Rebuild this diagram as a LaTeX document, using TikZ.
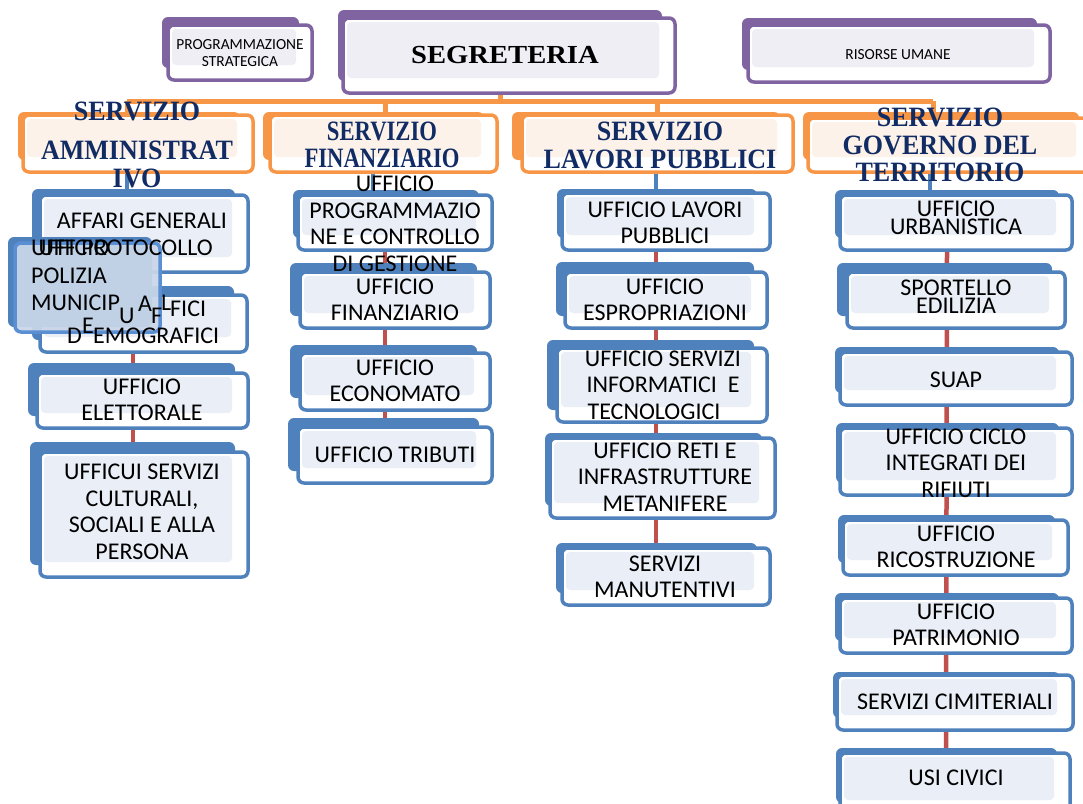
\documentclass[tikz,border=0pt]{standalone}
\usepackage{fontspec}
\setmainfont{Carlito}
\newfontfamily\headfont[FakeStretch=0.93]{Liberation Serif}
\newfontfamily\headfontc[FakeStretch=0.81]{Liberation Serif}
\newfontfamily\segfont[FakeStretch=1.1]{Liberation Serif}
\usetikzlibrary{calc,fit}
\pgfdeclarelayer{bg}
\pgfsetlayers{bg,main}
\definecolor{bback}{HTML}{4F81BD}
\definecolor{blight}{HTML}{EAEFF7}
\definecolor{oback}{HTML}{F79646}
\definecolor{olight}{HTML}{FDF2E9}
\definecolor{pback}{HTML}{8064A2}
\definecolor{plight}{HTML}{F0EEF5}
\definecolor{navy}{HTML}{112B64}
\definecolor{redl}{HTML}{C0504D}
\definecolor{polb}{HTML}{5B8FD3}
\definecolor{polfill}{HTML}{C9D6E9}
% name, scheme, back top-left, front top-left, front bottom-right
\newcommand\obox[5]{%
  \fill[#2back, rounded corners=6pt] #3 rectangle ($#5+(-13,-12)$);
  \draw[#2back, fill=white, line width=3.5pt, rounded corners=6pt] #4 rectangle #5;
  \fill[#2light, rounded corners=4pt] ($#4+(4,4)$) rectangle ($#5+(-16,-15)$);
  \node[fit={#4 #5}, inner sep=0pt] (#1) {};
}
\begin{document}
\begin{tikzpicture}[x=1pt,y=-1pt,
  otxt/.style={font=\fontsize{24}{26.5}\selectfont, align=center, inner sep=0pt, text=black},
  tight/.style={font=\fontsize{24}{18}\selectfont},
  stxt/.style={font=\fontsize{15.4}{17}\selectfont, align=center, inner sep=0pt, text=black},
  htxt/.style={font=\headfont\bfseries\fontsize{28}{28}\selectfont, align=center, inner sep=0pt, text=navy},
  redln/.style={draw=redl, line width=4.5pt},
  bluln/.style={draw=bback, line width=4pt},
  orln/.style={draw=oback, line width=5pt}]
\useasboundingbox (0,0) rectangle (1083,803);

% ---- purple boxes
\obox{prog}{p}{(162,17)}{(168,25)}{(312,80)}
\obox{seg}{p}{(338,10)}{(343,18)}{(675,93)}
\obox{ris}{p}{(742,18)}{(748,25)}{(1050,82)}

% ---- orange boxes
\obox{adm}{o}{(18,112)}{(23,115)}{(253,172)}
\obox{fin}{o}{(263,112)}{(270,115)}{(497,172)}
\obox{lav}{o}{(512,112)}{(522,115)}{(793,172)}
\obox{gov}{o}{(803,112)}{(808,118)}{(1092,172)}

% ---- blue boxes: amministrativo
\obox{aff}{b}{(32,189)}{(40,195)}{(248,272)}
\obox{dem}{b}{(32,286)}{(40,295)}{(247,352)}
\obox{ele}{b}{(28,363)}{(37,373)}{(248,428)}
\obox{cul}{b}{(30,442)}{(40,452)}{(248,577)}
% finanziario
\obox{pcg}{b}{(293,190)}{(298,195)}{(492,250)}
\obox{ufin}{b}{(290,263)}{(300,272)}{(490,328)}
\obox{econ}{b}{(290,345)}{(300,353)}{(490,410)}
\obox{trib}{b}{(288,418)}{(298,427)}{(492,483)}
% lavori pubblici
\obox{ulav}{b}{(557,189)}{(562,193)}{(770,250)}
\obox{espr}{b}{(556,262)}{(565,272)}{(767,328)}
\obox{info}{b}{(547,340)}{(557,348)}{(767,422)}
\obox{reti}{b}{(545,433)}{(550,438)}{(775,518)}
\obox{manu}{b}{(556,543)}{(562,548)}{(770,605)}
% governo del territorio
\obox{urb}{b}{(835,190)}{(840,195)}{(1072,250)}
\obox{spor}{b}{(837,263)}{(847,272)}{(1065,328)}
\obox{suap}{b}{(835,347)}{(840,352)}{(1072,405)}
\obox{cicl}{b}{(836,423)}{(840,428)}{(1072,495)}
\obox{rico}{b}{(838,515)}{(843,520)}{(1068,575)}
\obox{patr}{b}{(835,593)}{(840,598)}{(1072,653)}
\obox{cimi}{b}{(833,672)}{(837,675)}{(1073,730)}
\obox{usi}{b}{(836,748)}{(840,753)}{(1070,815)}

% ---- polizia municipale (overlapping box)
\fill[bback, rounded corners=6pt] (8,237) rectangle (152,327);
\draw[polb, fill=polfill, fill opacity=0.93, line width=3.5pt, rounded corners=6pt] (15,243) rectangle (160,332);
\node[fit={(15,243) (160,332)}, inner sep=0pt] (pol) {};

% ---- connectors (behind)
\begin{pgfonlayer}{bg}
\coordinate (hl) at (127,101);
\coordinate (hr) at (933,101);
\coordinate (fx) at (385,101);
\coordinate (lx) at (657,101);
\draw[orln] ($(seg.south)+(-9,0)$) |- (hl);
\draw[orln] (hl) -- (hr);
\draw[orln] (hl) -- (adm.north -| hl);
\draw[orln] (fx) -- (fin.north -| fx);
\draw[orln] (lx) -- (lav.north -| lx);
\draw[orln] (hr) -- (gov.north -| hr);
\draw[bluln] ($(adm.south)+(-11,0)$) -- ($(aff.north)+(-17,0)$);
\draw[bluln] ($(fin.south)+(-10.5,0)$) -- ($(pcg.north)+(-22,0)$);
\draw[bluln] ($(lav.south)+(-1.5,0)$) -- ($(ulav.north)+(-10,0)$);
\draw[bluln] ($(gov.south)+(-20,0)$) -- ($(urb.north)+(-26,0)$);
\draw[redln] ($(aff.south)+(-11,0)$) -- ($(cul.north)+(-11,0)$);
\draw[redln] ($(pcg.south)+(-10,0)$) -- ($(trib.north)+(-10,0)$);
\draw[redln] ($(ulav.south)+(-10,0)$) -- ($(manu.north)+(-10,0)$);
\draw[redln] ($(urb.south)+(-9,0)$) -- ($(usi.north)+(-9,0)$);
\end{pgfonlayer}

% ---- texts
\node[stxt] (prog-t) at (240,53.5) {PROGRAMMAZIONE\\STRATEGICA};
\node[inner sep=0pt, font=\segfont\bfseries\fontsize{26}{28}\selectfont] (seg-t) at (505,55) {SEGRETERIA};
\node[stxt] (ris-t) at (898,55) {RISORSE UMANE};

\node[htxt] (adm-t) at (137,144.5) {SERVIZIO\\[11pt]AMMINISTRAT\\IVO};
\node[htxt, font=\headfontc\bfseries\fontsize{28}{27}\selectfont] (fin-t) at (382,144.5) {SERVIZIO\\FINANZIARIO};
\node[htxt] (lav-t) at (660,145) {SERVIZIO\\LAVORI PUBBLICI};
\node[htxt, font=\headfont\bfseries\fontsize{28}{27.5}\selectfont] (gov-t) at (940,145) {SERVIZIO\\GOVERNO DEL\\TERRITORIO};

\node[otxt, anchor=base] (aff-t1) at (142,228) {AFFARI GENERALI};
\node[otxt, anchor=base east] (aff-t2) at (213,255) {UFF PROTOCOLLO};
\node[otxt, anchor=base west] (pol-t1) at (31,255) {UFFICIO};
\node[otxt, anchor=base west] (pol-t2) at (31,283) {POLIZIA};
\node[otxt, anchor=base west] (pol-t3) at (31,310) {MUNICIP};
\node[otxt, anchor=base west] (pol-t4) at (138,311) {A};
\node[otxt, anchor=base west] (pol-t5) at (161,310) {L};
\node[otxt, anchor=base west] (pol-t6) at (82,333) {E};
\node[otxt, anchor=base west] (dem-t1) at (119,323) {U};
\node[otxt, anchor=base west] (dem-t2) at (151,323) {F};
\node[otxt, anchor=base west] (dem-t3) at (170,316) {FICI};
\node[otxt, anchor=base west] (dem-t4) at (67,343) {D};
\node[otxt, anchor=base west] (dem-t5) at (93,343) {EMOGRAFICI};
\node[otxt] (ele-t) at (142,400) {UFFICIO\\ELETTORALE};
\node[otxt] (cul-t) at (142,512) {UFFICUI SERVIZI\\CULTURALI,\\SOCIALI E ALLA\\PERSONA};

\node[otxt] (pcg-t) at (395,224) {UFFICIO\\PROGRAMMAZIO\\NE E CONTROLLO\\DI GESTIONE};
\node[otxt] (ufin-t) at (395,300) {UFFICIO\\FINANZIARIO};
\node[otxt] (econ-t) at (395,381) {UFFICIO\\ECONOMATO};
\node[otxt] (trib-t) at (395,455) {UFFICIO TRIBUTI};

\node[otxt] (ulav-t) at (665,223) {UFFICIO LAVORI\\PUBBLICI};
\node[otxt] (espr-t) at (665,300) {UFFICIO\\ESPROPRIAZIONI};
\node[otxt] (info-t) at (663,385) {UFFICIO SERVIZI\\INFORMATICI\ \ E\\TECNOLOGICI\kern18pt};
\node[otxt] (reti-t) at (665,477) {UFFICIO RETI E\\INFRASTRUTTURE\\METANIFERE};
\node[otxt] (manu-t) at (665,577) {SERVIZI\\MANUTENTIVI};

\node[otxt, tight] (urb-t) at (956,218) {UFFICIO\\URBANISTICA};
\node[otxt, tight] (spor-t) at (956,297) {SPORTELLO\\EDILIZIA};
\node[otxt] (suap-t) at (956,380) {SUAP};
\node[otxt] (cicl-t) at (956,463) {UFFICIO CICLO\\INTEGRATI DEI\\RIFIUTI};
\node[otxt] (rico-t) at (956,547) {UFFICIO\\RICOSTRUZIONE};
\node[otxt] (patr-t) at (956,625) {UFFICIO\\PATRIMONIO};
\node[otxt] (cimi-t) at (955,702) {SERVIZI CIMITERIALI};
\node[otxt] (usi-t) at (956,778) {USI CIVICI};
\end{tikzpicture}
\end{document}
